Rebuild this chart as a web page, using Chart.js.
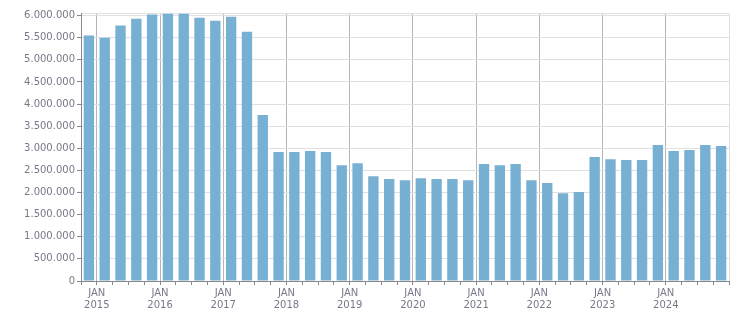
<!DOCTYPE html>
<html>
<head>
<meta charset="utf-8">
<script src="https://cdn.jsdelivr.net/npm/chart.js@4/dist/chart.umd.min.js"></script>
<style>
  html, body { margin: 0; padding: 0; background: #fff; }
  #wrap { width: 751px; height: 313px; }
</style>
</head>
<body>
<div id="wrap"><canvas id="chart"></canvas></div>
<script>
// quarterly values, 2014 Q4 .. 2024 Q4
const quarters = [
  '2014-Q4',
  '2015-Q1', '2015-Q2', '2015-Q3', '2015-Q4',
  '2016-Q1', '2016-Q2', '2016-Q3', '2016-Q4',
  '2017-Q1', '2017-Q2', '2017-Q3', '2017-Q4',
  '2018-Q1', '2018-Q2', '2018-Q3', '2018-Q4',
  '2019-Q1', '2019-Q2', '2019-Q3', '2019-Q4',
  '2020-Q1', '2020-Q2', '2020-Q3', '2020-Q4',
  '2021-Q1', '2021-Q2', '2021-Q3', '2021-Q4',
  '2022-Q1', '2022-Q2', '2022-Q3', '2022-Q4',
  '2023-Q1', '2023-Q2', '2023-Q3', '2023-Q4',
  '2024-Q1', '2024-Q2', '2024-Q3', '2024-Q4'
];
const values = [
  5550000,
  5500000, 5775000, 5930000, 6025000,
  6045000, 6045000, 5955000, 5885000,
  5975000, 5635000, 3755000, 2915000,
  2915000, 2940000, 2915000, 2620000,
  2665000, 2370000, 2305000, 2280000,
  2325000, 2305000, 2305000, 2280000,
  2645000, 2620000, 2645000, 2280000,
  2215000, 1985000, 2010000, 2805000,
  2755000, 2735000, 2735000, 3075000,
  2940000, 2960000, 3075000, 3050000
];
// first year on the axis and the axis top
const firstYear = 2015;
const yTicks = [0, 500000, 1000000, 1500000, 2000000, 2500000, 3000000,
  3500000, 4000000, 4500000, 5000000, 5500000, 6000000];
const yTop = 6060000;

const points = values.map((v, i) => ({ x: i + 0.5, y: v }));
const edges = [];
for (let i = 0; i <= quarters.length; i++) edges.push(i);

const fmt = v => v.toString().replace(/\B(?=(\d{3})+(?!\d))/g, '.');
const labelColor = '#78788a';
const font = { family: 'DejaVu Sans', size: 10, lineHeight: 1.25 };

new Chart(document.getElementById('chart'), {
  type: 'bar',
  data: {
    datasets: [{
      label: 'value',
      data: points,
      backgroundColor: '#77b0d3',
      borderWidth: 0,
      barPercentage: 0.82,
      categoryPercentage: 0.8
    }]
  },
  options: {
    responsive: true,
    maintainAspectRatio: false,
    animation: false,
    layout: { padding: { left: 0, right: 22, top: 13, bottom: 0 } },
    plugins: { legend: { display: false }, tooltip: { enabled: false } },
    scales: {
      x: {
        type: 'linear',
        min: 0,
        max: quarters.length,
        offset: false,
        afterBuildTicks: s => { s.ticks = edges.map(v => ({ value: v })); },
        afterFit: s => { s.height = 32; },
        border: { color: '#888', width: 1 },
        grid: {
          offset: false,
          color: c => {
            const v = c.tick ? c.tick.value : 0;
            if (v === quarters.length) return '#e0e0e0';
            if (v > 0 && (v - 1) % 4 === 0) return '#b4b4b4';
            return 'rgba(0,0,0,0)';
          },
          tickColor: '#888',
          tickLength: 4
        },
        ticks: {
          autoSkip: false,
          maxRotation: 0,
          padding: 2,
          color: labelColor,
          font: font,
          callback: v => ((v - 1) % 4 === 0 && v < quarters.length) ? ['JAN', String(firstYear + (v - 1) / 4)] : ''
        }
      },
      y: {
        min: 0,
        max: yTop,
        afterBuildTicks: s => { s.ticks = yTicks.concat([yTop]).map(v => ({ value: v })); },
        afterFit: s => { s.width = 81; },
        border: { color: '#888', width: 1 },
        grid: {
          color: '#e0e0e0',
          tickColor: c => (c.tick && c.tick.value === yTop) ? 'rgba(0,0,0,0)' : '#888',
          tickLength: 4
        },
        ticks: {
          padding: 2,
          color: labelColor,
          font: font,
          callback: v => v === yTop ? '' : fmt(v)
        }
      }
    }
  }
});
</script>
</body>
</html>
